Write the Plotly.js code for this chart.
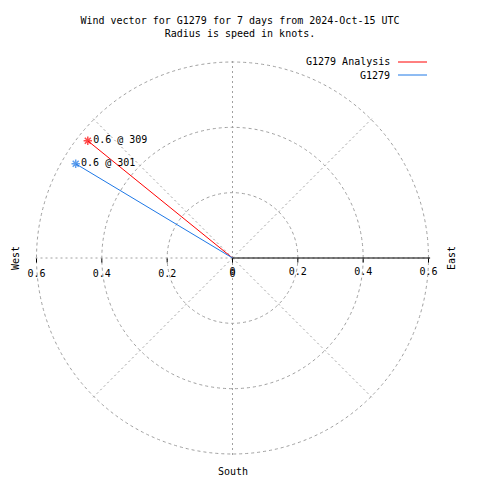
<!DOCTYPE html>
<html>
<head>
<meta charset="utf-8">
<script src="https://cdn.plot.ly/plotly-3.0.1.min.js"></script>
<style>html,body{margin:0;padding:0;background:#fff;}#chart{width:480px;height:480px;}</style>
</head>
<body>
<div id="chart"></div>
<script>
// ---- data ----
var seriesNames = ["G1279 Analysis", "G1279"];
var seriesColors = ["#ff0000", "#1e78e6"];
var speeds = [0.57, 0.56];          // knots
var directions = [309, 301];        // degrees (compass)
var radialTicks = [0, 0.2, 0.4, 0.6];
var radialTickText = ["0", "0.2", "0.4", "0.6"];
var compassLabels = ["West", "East", "South"];
var titleLines = ["Wind vector for G1279 for 7 days from 2024-Oct-15 UTC", "Radius is speed in knots."];

var FONT = "DejaVu Sans Mono, Liberation Mono, monospace";

var traces = seriesNames.map(function (name, i) {
  return {
    type: "scatterpolar",
    subplot: i === 0 ? "polar" : "polar2",
    name: name,
    r: [0, speeds[i]],
    theta: [0, directions[i]],
    mode: "lines+markers+text",
    text: ["", speeds[i].toFixed(1) + " @ " + directions[i]],
    textposition: "middle right",
    textfont: {family: FONT, size: 10, color: "#000"},
    line: {color: seriesColors[i], width: 1},
    marker: {symbol: "asterisk-open", size: [0, 7], line: {color: seriesColors[i], width: 1.5}, color: seriesColors[i]},
    showlegend: false,
    hoverinfo: "skip",
    cliponaxis: false
  };
});

// plot geometry: centre (232.5, 258) px, 0.6 kt -> 196 px
var RMAX = 0.605;
var RPX = 196 * RMAX / 0.6;
var dom = {x: [(232.5 - RPX) / 480, (232.5 + RPX) / 480], y: [(222 - RPX) / 480, (222 + RPX) / 480]};

function angAxis(show) {
  return {
    rotation: 90, direction: "clockwise", dtick: 45,
    showticklabels: false, ticks: "", showline: false,
    showgrid: show, gridcolor: "#a0a0a0", gridwidth: 1, griddash: "2px,3px",
    visible: true
  };
}

var layout = {
  width: 480, height: 480,
  margin: {l: 0, r: 0, t: 0, b: 0},
  paper_bgcolor: "#fff",
  font: {family: FONT, size: 10, color: "#000"},
  title: {
    text: titleLines.join("<br>"),
    x: 0.5, xanchor: "center", y: 1 - 24 / 480, yanchor: "top",
    font: {family: FONT, size: 10, color: "#000"}
  },
  polar: {
    domain: dom,
    bgcolor: "rgba(0,0,0,0)",
    angularaxis: angAxis(true),
    radialaxis: {
      range: [0, RMAX], tickvals: radialTicks, ticktext: radialTickText,
      angle: 0, side: "clockwise", tickangle: 0,
      showline: true, linecolor: "#000", linewidth: 1,
      ticks: "outside", ticklen: 4, tickcolor: "#000",
      showgrid: true, gridcolor: "#a0a0a0", gridwidth: 1, griddash: "3px,3px",
      tickfont: {family: FONT, size: 10, color: "#000"}
    }
  },
  polar2: {
    domain: dom,
    bgcolor: "rgba(0,0,0,0)",
    angularaxis: angAxis(false),
    radialaxis: {
      range: [0, RMAX], tickvals: radialTicks, ticktext: radialTickText,
      angle: 180, side: "counterclockwise", tickangle: 180,
      showline: false,
      ticks: "outside", ticklen: 4, tickcolor: "#000",
      showgrid: false,
      tickfont: {family: FONT, size: 10, color: "#000"}
    }
  },
  annotations: [
    {text: compassLabels[0], xref: "paper", yref: "paper", x: 15 / 480, y: 1 - 258 / 480, xanchor: "center", yanchor: "middle", textangle: -90, showarrow: false, font: {family: FONT, size: 10}},
    {text: compassLabels[1], xref: "paper", yref: "paper", x: 451 / 480, y: 1 - 258 / 480, xanchor: "center", yanchor: "middle", textangle: -90, showarrow: false, font: {family: FONT, size: 10}},
    {text: compassLabels[2], xref: "paper", yref: "paper", x: 233 / 480, y: 1 - 471 / 480, xanchor: "center", yanchor: "middle", showarrow: false, font: {family: FONT, size: 10}},
    {text: seriesNames[0], xref: "paper", yref: "paper", x: 392 / 480, y: 1 - 62 / 480, xanchor: "right", yanchor: "middle", showarrow: false, font: {family: FONT, size: 10}},
    {text: seriesNames[1], xref: "paper", yref: "paper", x: 392 / 480, y: 1 - 75 / 480, xanchor: "right", yanchor: "middle", showarrow: false, font: {family: FONT, size: 10}}
  ],
  shapes: [
    {type: "line", xref: "paper", yref: "paper", x0: 398 / 480, x1: 427 / 480, y0: 1 - 62 / 480, y1: 1 - 62 / 480, line: {color: seriesColors[0], width: 1}},
    {type: "line", xref: "paper", yref: "paper", x0: 398 / 480, x1: 427 / 480, y0: 1 - 75 / 480, y1: 1 - 75 / 480, line: {color: seriesColors[1], width: 1}}
  ],
  showlegend: false
};

Plotly.newPlot("chart", traces, layout, {displayModeBar: false, staticPlot: true});
</script>
</body>
</html>
